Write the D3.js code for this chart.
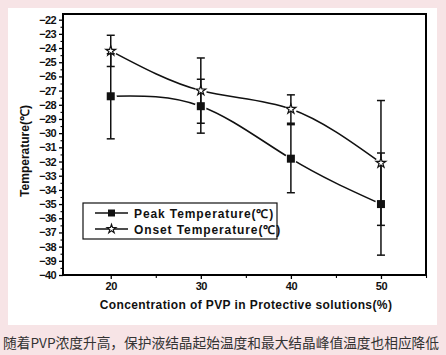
<!DOCTYPE html>
<html><head><meta charset="utf-8">
<script src="https://cdn.jsdelivr.net/npm/d3@7"></script>
<style>
html,body{margin:0;padding:0;background:#f7e4e6;}
svg{display:block;}
</style></head>
<body>
<svg id="c" width="446" height="355"></svg>
<script>
const conc = [20, 30, 40, 50];
const peak = [-27.4, -28.1, -31.8, -35.0];
const peakErr = [3.0, 1.9, 2.4, 3.6];
const onset = [-24.2, -27.0, -28.3, -32.1];
const onsetErr = [1.1, 2.3, 1.0, 4.4];
const yTicks = d3.range(-40, -21, 1);
const xTicks = [20, 30, 40, 50];
const legendLabels = ["Peak Temperature(\u2103)", "Onset Temperature(\u2103)"];
const xTitle = "Concentration of PVP in Protective solutions(%)";
const yTitle = "Temperature(\u2103)";
const caption = "随着PVP浓度升高，保护液结晶起始温度和最大结晶峰值温度也相应降低";

const svg = d3.select("#c");
const F = "'Liberation Sans', Arial, sans-serif";
const L = 63, R = 426, T = 14, B = 275;

svg.append("rect").attr("x", 8).attr("y", 8).attr("width", 429).attr("height", 317).attr("fill", "#fff");

const x = d3.scaleLinear().domain([14.7, 55]).range([L, R]);
const y = d3.scaleLinear().domain([-40, -21.6]).range([B, T]);

// frame
svg.append("rect").attr("x", L).attr("y", T).attr("width", R - L).attr("height", B - T)
  .attr("fill", "none").attr("stroke", "#000").attr("stroke-width", 2);

// y axis
const yAx = svg.append("g").attr("transform", `translate(${L},0)`)
  .call(d3.axisLeft(y).tickValues(yTicks).tickSize(4).tickPadding(3).tickFormat(d3.format("d")));
yAx.select(".domain").remove();
yAx.selectAll("text").attr("font-family", F).attr("font-weight", "bold").attr("font-size", 11)
  .attr("letter-spacing", -0.6).attr("fill", "#111");
yAx.selectAll("line").attr("stroke-width", 1.3);
svg.append("g").attr("transform", `translate(${L},0)`)
  .call(d3.axisLeft(y).tickValues(d3.range(-39.5, -21.6, 1)).tickSize(2.5).tickFormat(""))
  .call(g => g.select(".domain").remove())
  .selectAll("line").attr("stroke-width", 1.1);

// x axis
const xAx = svg.append("g").attr("transform", `translate(0,${B})`)
  .call(d3.axisBottom(x).tickValues(xTicks).tickSize(4).tickPadding(3).tickFormat(d3.format("d")));
xAx.select(".domain").remove();
xAx.selectAll("text").attr("font-family", F).attr("font-weight", "bold").attr("font-size", 11)
  .attr("letter-spacing", -0.5).attr("fill", "#111");
xAx.selectAll("line").attr("stroke-width", 1.3);
svg.append("g").attr("transform", `translate(0,${B})`)
  .call(d3.axisBottom(x).tickValues([25, 35, 45, 55]).tickSize(3).tickFormat(""))
  .call(g => g.select(".domain").remove())
  .selectAll("line").attr("stroke-width", 1.1);

// titles
svg.append("text").attr("x", 246).attr("y", 309).attr("text-anchor", "middle")
  .attr("font-family", F).attr("font-weight", "bold").attr("font-size", 12).attr("letter-spacing", 0.4)
  .attr("fill", "#111").text(xTitle);
svg.append("text").attr("transform", "translate(29,151) rotate(-90)").attr("text-anchor", "middle")
  .attr("font-family", F).attr("font-weight", "bold").attr("font-size", 12).attr("fill", "#111").text(yTitle);

// lines
const line = d3.line().x((d, i) => x(conc[i])).y(d => y(d)).curve(d3.curveNatural);
[peak, onset].forEach(s => {
  svg.append("path").attr("d", line(s)).attr("fill", "none").attr("stroke", "#111").attr("stroke-width", 1.6);
});
// gaps around markers
[peak, onset].forEach(s => {
  svg.selectAll(null).data(s).enter().append("circle")
    .attr("cx", (d, i) => x(conc[i])).attr("cy", d => y(d)).attr("r", 6).attr("fill", "#fff");
});

// error bars
function errBars(vals, errs) {
  const g = svg.append("g").attr("stroke", "#111").attr("stroke-width", 1.5);
  vals.forEach((v, i) => {
    const cx = x(conc[i]);
    g.append("line").attr("x1", cx).attr("x2", cx).attr("y1", y(v + errs[i])).attr("y2", y(v - errs[i]));
    [v + errs[i], v - errs[i]].forEach(e => {
      g.append("line").attr("x1", cx - 4).attr("x2", cx + 4).attr("y1", y(e)).attr("y2", y(e));
    });
  });
}
errBars(peak, peakErr);
errBars(onset, onsetErr);

// markers
const star = d3.symbol().type(d3.symbolStar).size(30);
svg.selectAll(null).data(peak).enter().append("rect")
  .attr("x", (d, i) => x(conc[i]) - 4).attr("y", d => y(d) - 4).attr("width", 8).attr("height", 8).attr("fill", "#111");
svg.selectAll(null).data(onset).enter().append("path")
  .attr("d", star).attr("transform", (d, i) => `translate(${x(conc[i])},${y(d)})`)
  .attr("fill", "#fff").attr("stroke", "#111").attr("stroke-width", 1.2);

// legend
const lg = svg.append("g");
lg.append("rect").attr("x", 83).attr("y", 203).attr("width", 194).attr("height", 36)
  .attr("fill", "#fff").attr("stroke", "#111").attr("stroke-width", 1.2);
legendLabels.forEach((t, i) => {
  const ly = 213 + i * 16;
  lg.append("line").attr("x1", 95).attr("x2", 128).attr("y1", ly).attr("y2", ly).attr("stroke", "#111").attr("stroke-width", 1.4);
  if (i === 0) {
    lg.append("rect").attr("x", 108).attr("y", ly - 3.5).attr("width", 7).attr("height", 7).attr("fill", "#111");
  } else {
    lg.append("path").attr("d", d3.symbol().type(d3.symbolStar).size(25)()).attr("transform", `translate(111.5,${ly})`)
      .attr("fill", "#fff").attr("stroke", "#111").attr("stroke-width", 1.1);
  }
  lg.append("text").attr("x", 134).attr("y", ly + 4.5).attr("font-family", F).attr("font-weight", "bold")
    .attr("font-size", 12).attr("letter-spacing", 0.9).attr("fill", "#111").text(t);
});

// caption
svg.append("text").attr("x", 3).attr("y", 348).attr("font-family", "'Noto Sans CJK SC', sans-serif")
  .attr("font-size", 13.5).attr("textLength", 436).attr("lengthAdjust", "spacingAndGlyphs")
  .attr("fill", "#333").text(caption);
</script>
</body></html>
